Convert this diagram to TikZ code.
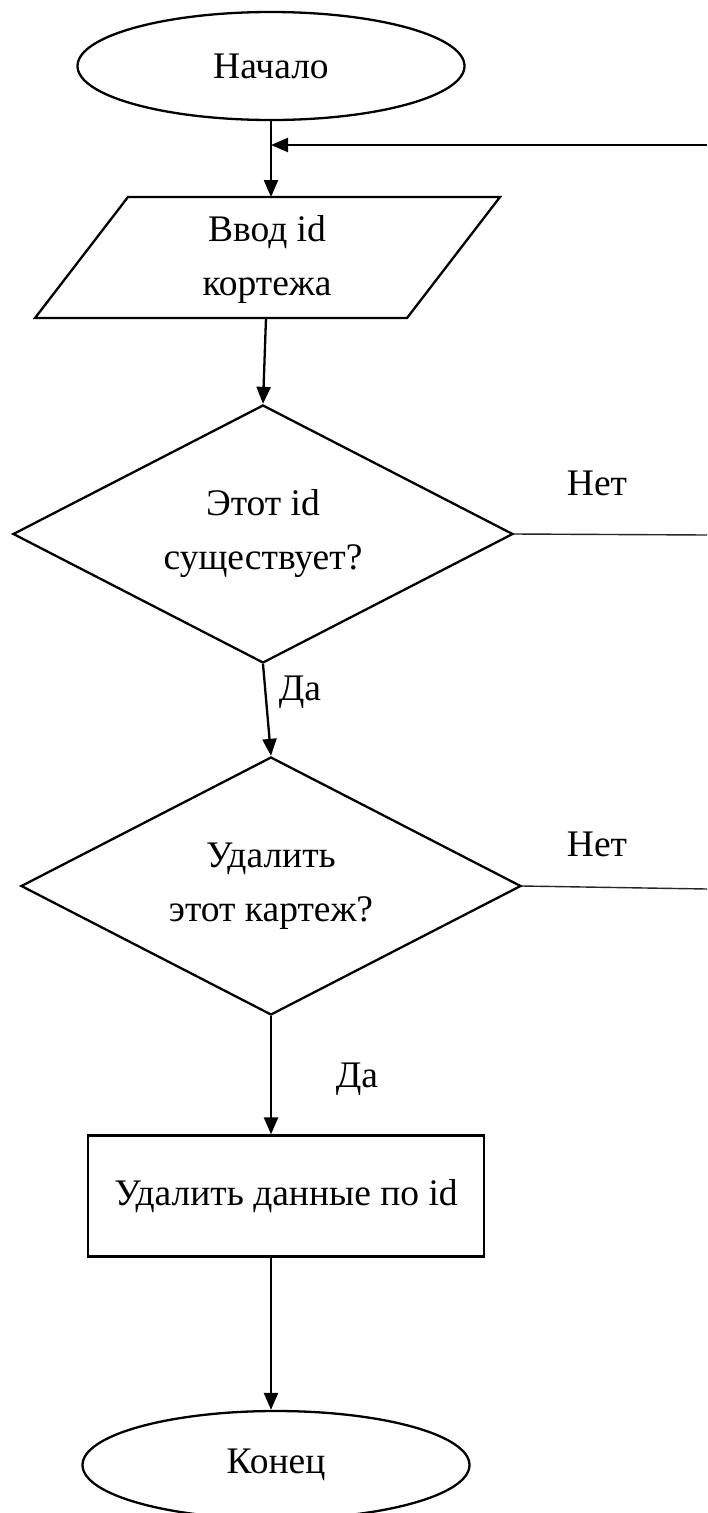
\documentclass[tikz,border=0pt]{standalone}
\usepackage{fontspec}
\setmainfont{Liberation Serif}
\usetikzlibrary{shapes.geometric,arrows.meta}
\begin{document}
\begin{tikzpicture}[x=1pt,y=-1pt,
  shapeline/.style={draw=black,line width=2.3pt},
  txt/.style={font=\fontsize{37.5}{54}\selectfont,align=center},
  term/.style={shapeline,txt,ellipse,minimum width=387pt,minimum height=108pt,inner sep=0pt},
  decision/.style={shapeline,txt,diamond,aspect=2,inner sep=0pt,minimum width=500pt,minimum height=258pt},
  proc/.style={shapeline,txt,rectangle,inner sep=0pt,minimum width=396pt,minimum height=121pt},
  lbl/.style={txt,inner sep=0pt},
  flow/.style={line width=2.3pt,-{Triangle[length=17pt,width=14pt]}},
  noline/.style={line width=1.4pt,draw=black!85}
]
\useasboundingbox (0,0) rectangle (707,1513);
\clip (0,0) rectangle (707,1513);

% terminals, process, decisions
\node[term] (start) at (271,66) {Начало};
\draw[shapeline] (35,318) -- (128,197) -- (500,197) -- (407,318) -- cycle;
\node[lbl] (inp) at (267,259) {Ввод id\\кортежа};
\coordinate (inTop) at (271,197);
\coordinate (inBot) at (266,318);
\node[decision] (d1) at (263,534) {Этот id\\существует?};
\node[decision] (d2) at (271,886) {Удалить\\этот картеж?};
\node[proc] (del) at (286,1196) {Удалить данные по id};
\node[term] (stop) at (276,1465) {Конец};

% right-side loop ends
\coordinate (retIn) at (271,145);
\coordinate (retR) at (707,145);
\coordinate (d1R) at (707,535);
\coordinate (d2R) at (707,889);

% connectors
\draw[flow] (start.south) -- (inTop);
\draw[flow] (retR) -- (retIn);
\draw[flow] (inBot) -- (d1.north);
\draw[noline] (d1.east) -- (d1R);
\draw[flow] (d1.south) -- (d2.north);
\draw[noline] (d2.east) -- (d2R);
\draw[flow] (d2.south) -- (d2.south |- del.north);
\draw[flow] (d2.south |- del.south) -- (d2.south |- stop.north);

% labels
\node[lbl,anchor=base] (no1) at (597,495) {Нет};
\node[lbl,anchor=base] (no2) at (597,856) {Нет};
\node[lbl,anchor=base] (yes1) at (300,700) {Да};
\node[lbl,anchor=base] (yes2) at (357,1087) {Да};
\end{tikzpicture}
\end{document}
